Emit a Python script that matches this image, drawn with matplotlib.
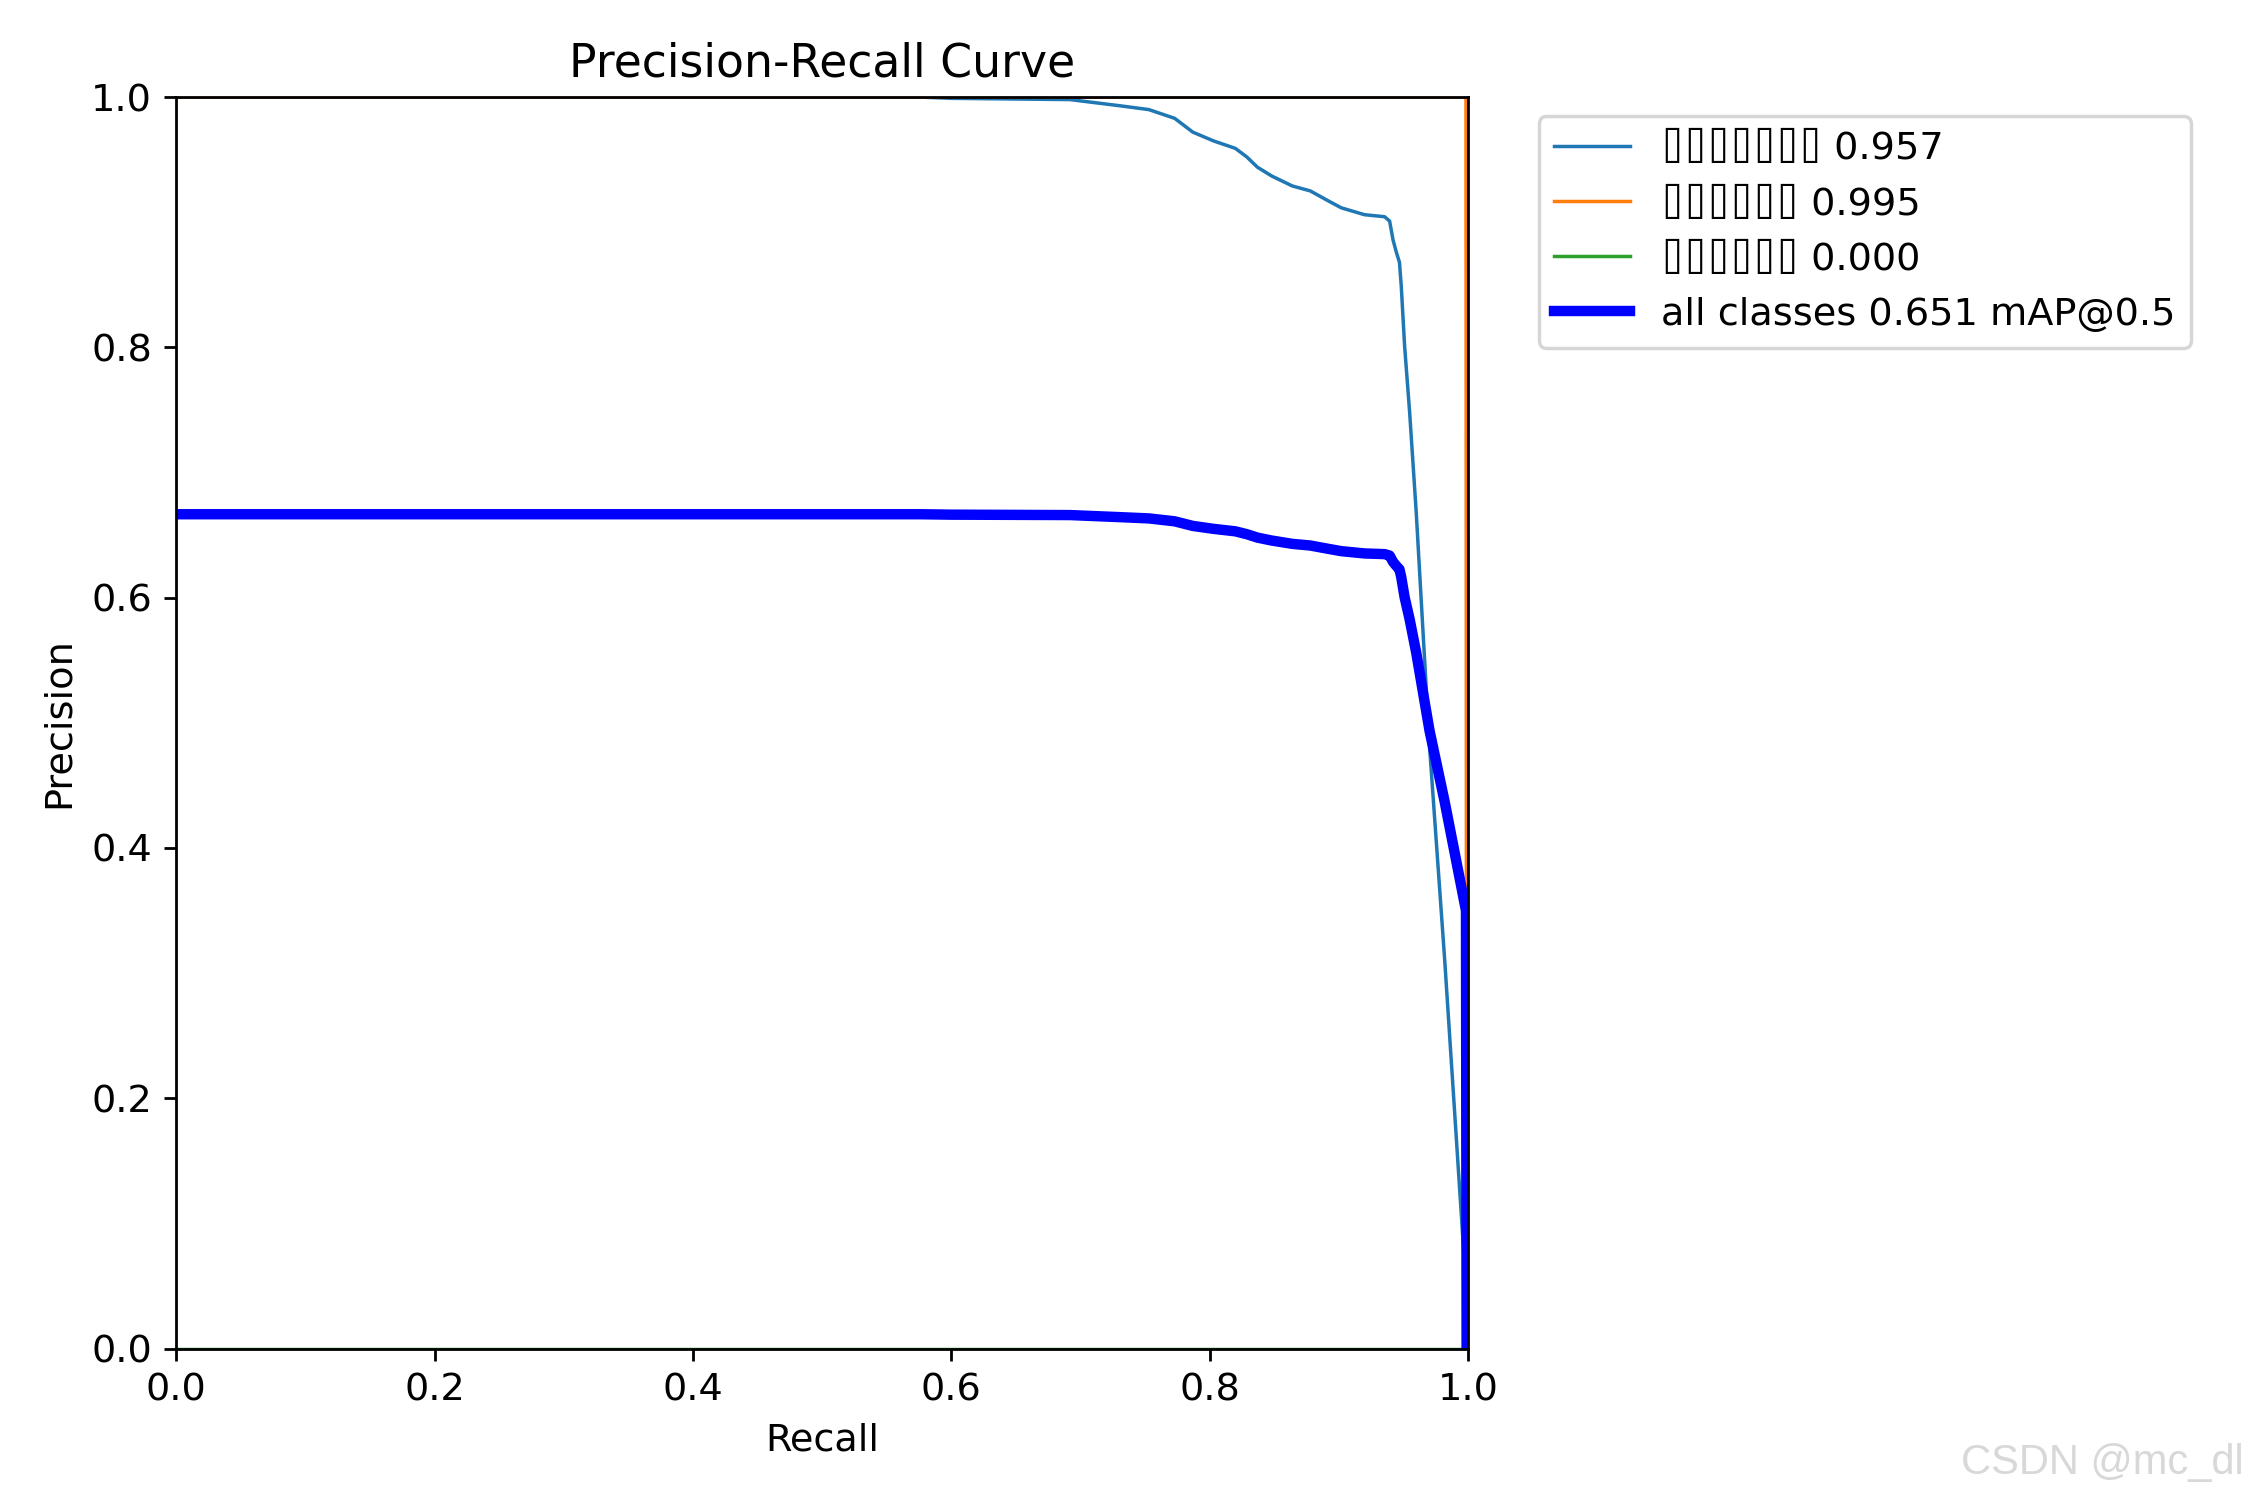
import matplotlib
matplotlib.use("Agg")
import matplotlib.pyplot as plt
import numpy as np

plt.rcParams["font.size"] = 11

# recall points shared by every class curve
recall = [0.0, 0.576, 0.60, 0.692, 0.731, 0.753, 0.773, 0.787, 0.803, 0.82,
          0.829, 0.837, 0.848, 0.864, 0.878, 0.892, 0.902, 0.92, 0.9355, 0.9394,
          0.942, 0.9446, 0.947, 0.9484, 0.951, 0.9549, 0.960, 0.9703, 0.982, 0.9985,
          0.999]

# precision per class (names rendered as missing-glyph boxes in the original)
class_names = ["⌷⌷⌷⌷⌷⌷⌷", "⌷⌷⌷⌷⌷⌷", "⌷⌷⌷⌷⌷⌷"]
class_ap = [0.957, 0.995, 0.000]
prec_class0 = [1.0, 1.0, 0.999, 0.998, 0.993, 0.99, 0.983, 0.972, 0.965, 0.959,
               0.952, 0.944, 0.937, 0.929, 0.925, 0.917, 0.9115, 0.906, 0.9044, 0.9009,
               0.886, 0.876, 0.868, 0.849, 0.801, 0.748, 0.668, 0.481, 0.311, 0.05,
               0.0]
prec_class1 = [1.0] * (len(recall) - 1) + [0.0]
prec_class2 = [0.0] * len(recall)
map50 = 0.651

precisions = [prec_class0, prec_class1, prec_class2]

fig, ax = plt.subplots(1, 1, figsize=(9, 6), tight_layout=True)

for name, ap, p in zip(class_names, class_ap, precisions):
    ax.plot(recall, p, linewidth=1, label=f"{name} {ap:.3f}")

# mean precision over the classes at each recall point
mean_p = np.mean(np.array(precisions), axis=0)
ax.plot(recall, mean_p, linewidth=3, color="blue", label=f"all classes {map50:.3f} mAP@0.5")

ax.set_xlabel("Recall")
ax.set_ylabel("Precision")
ax.set_xlim(0, 1)
ax.set_ylim(0, 1)
ax.legend(bbox_to_anchor=(1.04, 1), loc="upper left",
          prop={"family": ["DejaVu Sans", "DejaVu Sans Mono"], "size": 11})
ax.set_title("Precision-Recall Curve")

# watermark
fig.text(0.997, 0.025, "CSDN @mc_dl", ha="right", va="center", fontsize=12,
         color="#d8d8d8", family="Liberation Sans")

fig.savefig("out.png", dpi=250)
